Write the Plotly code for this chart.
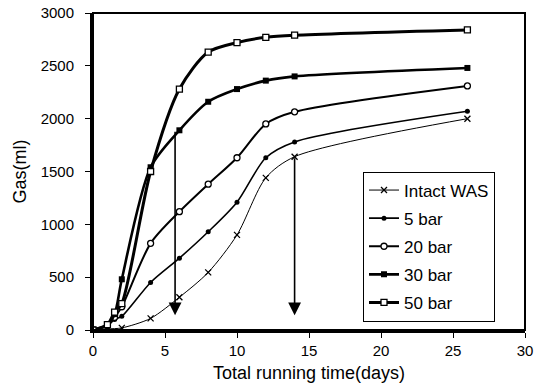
import plotly.graph_objects as go

# ---- data ----
days_intact = [0, 1, 2, 4, 6, 8, 10, 12, 14, 26]
gas_intact = [0, 10, 20, 110, 310, 545, 900, 1440, 1640, 2000]

days_bar = [0, 1, 1.5, 2, 4, 6, 8, 10, 12, 14, 26]
gas_5bar = [0, 40, 100, 130, 450, 680, 930, 1210, 1630, 1780, 2070]
gas_20bar = [0, 40, 120, 220, 820, 1120, 1380, 1630, 1950, 2065, 2310]
gas_30bar = [0, 50, 150, 480, 1540, 1890, 2160, 2280, 2360, 2400, 2480]
gas_50bar = [0, 50, 170, 250, 1500, 2280, 2630, 2720, 2770, 2790, 2840]

series_names = ["Intact WAS", "5 bar", "20 bar", "30 bar", "50 bar"]

arrow_x = [5.7, 14]
arrow_top = [1890, 1640]
arrow_tip = 140

x_ticks = [0, 5, 10, 15, 20, 25, 30]
y_ticks = [0, 500, 1000, 1500, 2000, 2500, 3000]

fig = go.Figure()

styles = [
    (days_intact, gas_intact, 1.0, dict(symbol="x-thin", size=6, line=dict(width=1.3, color="black"), color="black")),
    (days_bar, gas_5bar, 1.6, dict(symbol="circle", size=5, color="black")),
    (days_bar, gas_20bar, 2.0, dict(symbol="circle", size=6, color="white", line=dict(width=1.3, color="black"))),
    (days_bar, gas_30bar, 2.6, dict(symbol="square", size=6, color="black")),
    (days_bar, gas_50bar, 3.0, dict(symbol="square", size=6, color="white", line=dict(width=1.3, color="black"))),
]

for name, (xs, ys, lw, mk) in zip(series_names, styles):
    fig.add_trace(go.Scatter(
        x=xs, y=ys, name=name, mode="lines+markers",
        line=dict(color="black", width=lw, shape="spline", smoothing=0.8),
        marker=mk, legendgroup=name,
    ))

for ax_, top in zip(arrow_x, arrow_top):
    fig.add_annotation(
        x=ax_, y=arrow_tip, ax=ax_, ay=top, xref="x", yref="y", axref="x", ayref="y",
        showarrow=True, arrowhead=2, arrowsize=1.6, arrowwidth=1.6, arrowcolor="black", text="",
    )

# frame
fig.add_shape(type="rect", xref="paper", yref="paper", x0=0, y0=0, x1=1, y1=1,
              line=dict(color="black", width=2))

fam = "Liberation Sans, Arial, sans-serif"
font = dict(family=fam, size=15, color="black")

fig.update_layout(
    width=534, height=385,
    margin=dict(l=93, r=9, t=13, b=55, autoexpand=False),
    paper_bgcolor="white", plot_bgcolor="white",
    font=font,
    showlegend=True,
    legend=dict(
        x=0.625, y=0.5, xanchor="left", yanchor="top",
        bgcolor="white", bordercolor="black", borderwidth=1,
        font=dict(family=fam, size=17, color="black"),
        tracegroupgap=3, itemwidth=30,
    ),
    xaxis=dict(
        range=[0, 30], tickvals=x_ticks, showgrid=False, zeroline=False,
        showline=True, linecolor="black", linewidth=3, automargin=False,
        ticks="outside", ticklen=5, tickcolor="black", ticklabeloverflow="allow",
        title=dict(text="Total running time(days)", standoff=9),
    ),
    yaxis=dict(
        range=[0, 3000], tickvals=y_ticks, showgrid=False, zeroline=False,
        showline=True, linecolor="black", linewidth=3, automargin=False,
        ticks="outside", ticklen=5, tickcolor="black", ticklabelstandoff=8,
        ticklabeloverflow="allow",
        title=dict(text="Gas(ml)", standoff=10),
    ),
)

# remove the page's default body margin so the figure sits at the window's corner
fig.write_html("out.html", config={"displayModeBar": False},
               post_script="document.body.style.margin='0';")
